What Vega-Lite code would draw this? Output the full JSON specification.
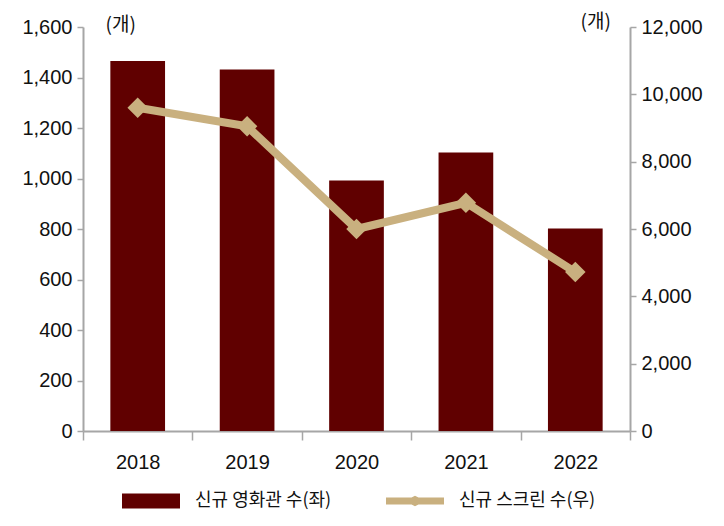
{
  "$schema": "https://vega.github.io/schema/vega-lite/v6.json",
  "width": 547,
  "height": 404,
  "autosize": {"type": "none"},
  "padding": {"left": 83, "top": 27, "right": 94, "bottom": 95},
  "background": "white",
  "config": {
    "view": {"stroke": null},
    "font": "Liberation Sans",
    "axis": {
      "domainColor": "#A6A6A6",
      "domainWidth": 2,
      "tickColor": "#A6A6A6",
      "tickWidth": 1.5,
      "labelColor": "#111111",
      "labelFontSize": 20,
      "labelFont": "Liberation Sans",
      "titleFont": "Noto Sans CJK KR",
      "titleFontSize": 19,
      "titleFontWeight": "normal",
      "titleColor": "#111111",
      "grid": false
    },
    "legend": {
      "orient": "none",
      "legendX": 39,
      "legendY": 445,
      "direction": "horizontal",
      "labelFont": "Noto Sans CJK KR",
      "labelFontSize": 18,
      "labelColor": "#111111",
      "labelOffset": 15,
      "columnPadding": 54,
      "symbolSize": 3364,
      "title": null
    }
  },
  "data": {
    "values": [
      {"year": "2018", "theaters": 1465, "screens": 9600},
      {"year": "2019", "theaters": 1432, "screens": 9050},
      {"year": "2020", "theaters": 992, "screens": 6000},
      {"year": "2021", "theaters": 1103, "screens": 6780},
      {"year": "2022", "theaters": 802, "screens": 4720}
    ]
  },
  "encoding": {
    "x": {
      "field": "year",
      "type": "ordinal",
      "scale": {"paddingInner": 0, "paddingOuter": 0},
      "axis": {
        "title": null,
        "labelAngle": 0,
        "tickBand": "extent",
        "tickSize": 9,
        "labelPadding": 12
      }
    }
  },
  "layer": [
    {
      "mark": {"type": "bar", "width": {"band": 0.5}},
      "encoding": {
        "y": {
          "field": "theaters",
          "type": "quantitative",
          "scale": {"domain": [0, 1600]},
          "axis": {
            "orient": "left",
            "values": [0, 200, 400, 600, 800, 1000, 1200, 1400, 1600],
            "format": ",d",
            "tickSize": 6,
            "labelPadding": 5,
            "title": "(개)",
            "titleAngle": 0,
            "titleAlign": "left",
            "titleBaseline": "middle",
            "titleX": 22,
            "titleY": -3
          }
        },
        "color": {
          "datum": "신규 영화관 수(좌)",
          "scale": {
            "domain": ["신규 영화관 수(좌)", "신규 스크린 수(우)"],
            "range": ["#600000", "#C9B07F"]
          },
          "legend": {
            "encode": {
              "symbols": {
                "update": {
                  "shape": {"signal": "datum.value === '신규 영화관 수(좌)' ? 'M-1,-0.26H1V0.26H-1Z' : 'M-1,-0.12H-0.12L0,-0.18L0.12,-0.12H1V0.12H0.12L0,0.18L-0.12,0.12H-1Z'"},
                  "fill": {"signal": "datum.value === '신규 영화관 수(좌)' ? '#600000' : '#C9B07F'"},
                  "strokeWidth": {"value": 0},
                  "opacity": {"value": 1}
                }
              }
            }
          }
        }
      }
    },
    {
      "mark": {
        "type": "line",
        "strokeWidth": 8,
        "point": {"shape": "diamond", "size": 420, "filled": true, "opacity": 1}
      },
      "encoding": {
        "y": {
          "field": "screens",
          "type": "quantitative",
          "scale": {"domain": [0, 12000]},
          "axis": {
            "orient": "right",
            "values": [0, 2000, 4000, 6000, 8000, 10000, 12000],
            "format": ",d",
            "tickSize": 6,
            "labelPadding": 5,
            "title": "(개)",
            "titleAngle": 0,
            "titleAlign": "left",
            "titleBaseline": "middle",
            "titleX": -50,
            "titleY": -6
          }
        },
        "color": {"datum": "신규 스크린 수(우)"}
      }
    }
  ],
  "resolve": {"scale": {"y": "independent"}}
}
